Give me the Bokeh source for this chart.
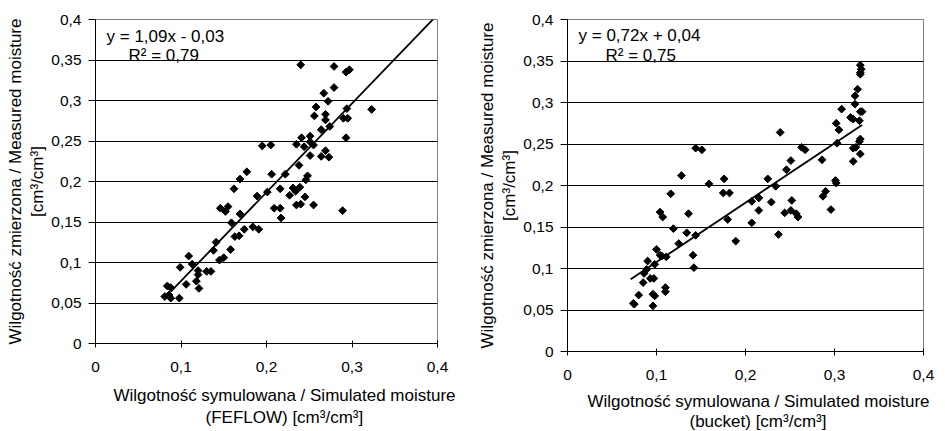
import numpy as np
from bokeh.plotting import figure
from bokeh.layouts import row
from bokeh.models import Range1d, FixedTicker, CustomJSTickFormatter, Label, Title
from bokeh.embed import file_html
from bokeh.resources import INLINE

# ---------------- data ----------------
feflow_x = [0.240, 0.279, 0.293, 0.297, 0.267, 0.279, 0.272, 0.258, 0.294, 0.323,
            0.256, 0.269, 0.269, 0.290, 0.295, 0.274, 0.264, 0.241, 0.251, 0.293,
            0.235, 0.244, 0.251, 0.255, 0.195, 0.205, 0.269, 0.264, 0.273, 0.251,
            0.238, 0.177, 0.206, 0.222, 0.169, 0.248, 0.246, 0.162, 0.216, 0.231,
            0.239, 0.234, 0.201, 0.189, 0.227, 0.245, 0.235, 0.240, 0.255, 0.209,
            0.216, 0.217, 0.289, 0.146, 0.155, 0.152, 0.169, 0.159, 0.174, 0.184,
            0.191, 0.163, 0.168, 0.141, 0.138, 0.158, 0.150, 0.145, 0.109, 0.113,
            0.099, 0.120, 0.120, 0.130, 0.135, 0.118, 0.106, 0.121, 0.084, 0.088,
            0.081, 0.088, 0.098, 0.086]
feflow_y = [0.344, 0.342, 0.335, 0.338, 0.309, 0.316, 0.299, 0.292, 0.290, 0.289,
            0.281, 0.283, 0.276, 0.278, 0.278, 0.268, 0.264, 0.254, 0.256, 0.254,
            0.246, 0.243, 0.249, 0.245, 0.244, 0.245, 0.238, 0.231, 0.230, 0.232,
            0.220, 0.212, 0.209, 0.209, 0.203, 0.207, 0.202, 0.191, 0.191, 0.192,
            0.193, 0.188, 0.187, 0.182, 0.183, 0.181, 0.171, 0.172, 0.171, 0.167,
            0.167, 0.155, 0.164, 0.167, 0.169, 0.163, 0.160, 0.149, 0.141, 0.144,
            0.141, 0.132, 0.133, 0.125, 0.115, 0.116, 0.106, 0.103, 0.108, 0.098,
            0.094, 0.090, 0.085, 0.089, 0.089, 0.077, 0.073, 0.068, 0.071, 0.069,
            0.058, 0.056, 0.056, 0.060]
feflow_trend_x = [0.088, 0.400]
feflow_trend_y = [0.064, 0.406]
feflow_eq = "y = 1,09x - 0,03"
feflow_r2 = "R² = 0,79"

bucket_x = [0.329, 0.330, 0.329, 0.329, 0.326, 0.323, 0.323, 0.308, 0.329, 0.331,
            0.318, 0.321, 0.328, 0.302, 0.305, 0.239, 0.329, 0.328, 0.303, 0.324,
            0.321, 0.329, 0.321, 0.263, 0.267, 0.144, 0.151, 0.286, 0.251, 0.246,
            0.128, 0.176, 0.225, 0.301, 0.302, 0.159, 0.234, 0.175, 0.182, 0.116,
            0.290, 0.287, 0.215, 0.207, 0.229, 0.252, 0.296, 0.104, 0.215, 0.251,
            0.107, 0.136, 0.244, 0.257, 0.259, 0.180, 0.207, 0.119, 0.134, 0.144,
            0.237, 0.189, 0.125, 0.100, 0.106, 0.111, 0.141, 0.090, 0.098, 0.089,
            0.086, 0.142, 0.085, 0.093, 0.097, 0.110, 0.110, 0.080, 0.096, 0.098,
            0.075, 0.096, 0.074, 0.104]
bucket_y = [0.345, 0.340, 0.336, 0.334, 0.316, 0.308, 0.298, 0.292, 0.289, 0.289,
            0.282, 0.280, 0.278, 0.275, 0.267, 0.264, 0.256, 0.253, 0.251, 0.246,
            0.245, 0.238, 0.229, 0.246, 0.243, 0.245, 0.243, 0.231, 0.230, 0.219,
            0.212, 0.208, 0.208, 0.206, 0.203, 0.202, 0.199, 0.191, 0.191, 0.190,
            0.193, 0.187, 0.185, 0.181, 0.180, 0.182, 0.171, 0.168, 0.170, 0.170,
            0.162, 0.166, 0.167, 0.166, 0.162, 0.159, 0.155, 0.148, 0.143, 0.140,
            0.141, 0.133, 0.130, 0.123, 0.115, 0.114, 0.116, 0.109, 0.105, 0.099,
            0.094, 0.101, 0.083, 0.088, 0.088, 0.077, 0.072, 0.068, 0.069, 0.067,
            0.057, 0.055, 0.058, 0.116]
bucket_trend_x = [0.071, 0.331]
bucket_trend_y = [0.087, 0.273]
bucket_eq = "y = 0,72x + 0,04"
bucket_r2 = "R² = 0,75"

x_ticks = [0.0, 0.1, 0.2, 0.3, 0.4]
y_ticks = [0.0, 0.05, 0.1, 0.15, 0.2, 0.25, 0.3, 0.35, 0.4]
y_label = "Wilgotność zmierzona / Measured moisture\n[cm³/cm³]"
x_label_line1 = "Wilgotność symulowana / Simulated moisture"
x_label_left_line2 = "(FEFLOW) [cm³/cm³]"
x_label_right_line2 = "(bucket) [cm³/cm³]"

FONT = "Liberation Sans"
TICK_SIZE = "15.5px"
LABEL_SIZE = "17px"
fmt_code = r"""
let s = tick.toFixed(2);
s = s.replace(/0+$/, '');
s = s.replace(/\.$/, '');
return s.replace('.', ',');
"""


def make_panel(xs, ys, tx, ty, eq, r2, line2, fw, fh, bl, br, bt, bb,
               eq_pos, r2_pos, off1, off2, sa, sb, x_standoff):
    p = figure(frame_width=fw, frame_height=fh, output_backend="svg", toolbar_location=None,
               x_range=Range1d(0, 0.4), y_range=Range1d(0, 0.4),
               min_border_left=bl, min_border_right=br, min_border_top=bt,
               min_border_bottom=bb)
    p.background_fill_color = "white"
    p.border_fill_color = "white"
    p.outline_line_color = "#808080"
    p.outline_line_width = 1

    p.xgrid.visible = False
    p.ygrid.ticker = FixedTicker(ticks=[0.05, 0.1, 0.15, 0.2, 0.25, 0.3, 0.35])
    p.ygrid.grid_line_color = "black"
    p.ygrid.grid_line_width = 1

    p.xaxis.ticker = FixedTicker(ticks=x_ticks)
    p.yaxis.ticker = FixedTicker(ticks=y_ticks)
    for ax in (p.xaxis[0], p.yaxis[0]):
        ax.formatter = CustomJSTickFormatter(code=fmt_code)
        ax.axis_line_color = "black"
        ax.major_tick_line_color = "black"
        ax.minor_tick_line_color = None
        ax.major_label_text_font = FONT
        ax.major_label_text_font_size = TICK_SIZE
        ax.major_label_text_color = "black"
    p.xaxis.major_tick_out = 4
    p.xaxis.major_tick_in = 3
    p.yaxis.major_tick_out = 7
    p.yaxis.major_tick_in = 0
    p.xaxis.major_label_standoff = x_standoff
    p.yaxis.major_label_standoff = 7

    p.yaxis.axis_label = y_label
    p.yaxis.axis_label_text_font = FONT
    p.yaxis.axis_label_text_font_size = LABEL_SIZE
    p.yaxis.axis_label_text_font_style = "normal"
    p.yaxis.axis_label_text_color = "black"
    p.yaxis.axis_label_standoff = 1

    t1 = Title(text=x_label_line1, align="left", offset=off1, text_font=FONT,
               text_font_size=LABEL_SIZE, text_font_style="normal", text_color="black",
               standoff=sa)
    t2 = Title(text=line2, align="left", offset=off2, text_font=FONT,
               text_font_size=LABEL_SIZE, text_font_style="normal", text_color="black",
               standoff=sb)
    p.add_layout(t1, "below")
    p.add_layout(t2, "below")

    p.line(tx, ty, line_color="black", line_width=1.8)
    p.scatter(xs, ys, marker="square", size=5.5, angle=np.pi / 4,
              fill_color="black", line_color="black")

    p.add_layout(Label(x=eq_pos[0], y=eq_pos[1], text=eq, text_font=FONT,
                       text_font_size=LABEL_SIZE, text_baseline="top", text_color="black"))
    p.add_layout(Label(x=r2_pos[0], y=r2_pos[1], text=r2, text_font=FONT,
                       text_font_size=LABEL_SIZE, text_baseline="top", text_color="black"))
    return p


left = make_panel(feflow_x, feflow_y, feflow_trend_x, feflow_trend_y, feflow_eq, feflow_r2,
                  x_label_left_line2, 342, 324, 95, 33, 18, 89,
                  (0.0129, 0.391), (0.0386, 0.367), 18, 110, 18, -15, 14)
right = make_panel(bucket_x, bucket_y, bucket_trend_x, bucket_trend_y, bucket_eq, bucket_r2,
                   x_label_right_line2, 356, 332, 97, 22, 19, 80,
                   (0.0124, 0.392), (0.0427, 0.368), 20, 122, 15, -17, 14)

layout = row(left, right)
open("out.html", "w").write(file_html(layout, INLINE))
